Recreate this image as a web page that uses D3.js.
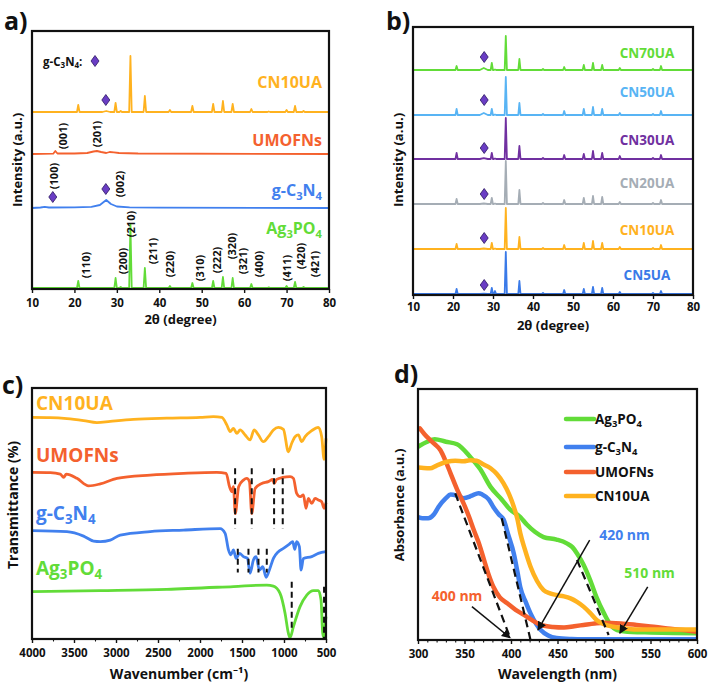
<!DOCTYPE html>
<html><head><meta charset="utf-8">
<script src="https://cdn.jsdelivr.net/npm/d3@7"></script>
<style>
body{margin:0;background:#fff}
svg{display:block}
text{font-family:"Open Sans","Noto Sans",sans-serif;font-weight:700}
</style>
</head><body>
<svg id="chart" width="709" height="685"></svg>
<script>
// ---------------- DATA ----------------
// Panel a (XRD): Ag3PO4 reflections and intensities (a.u.)
const xrdAnglesA = [20.9, 29.7, 30.9, 33.2, 36.6, 42.5, 47.8, 52.7, 55.0, 57.3, 61.7, 65.8, 70.0, 72.0, 74.0];
const ag3po4IntA = [7, 10, 1, 64, 20, 2, 5, 7, 11, 10, 4, 0.7, 2, 6, 1];
const cn10uaIntA = [7, 9, 1, 56, 16, 2, 6, 8, 11, 8, 3, 0.5, 2, 6, 1];
const gc3n4PatternA = [[10,0],[12,0.5],[13,1.2],[14,0.5],[20,0.6],[24,1.2],[26,3],[27.5,8],[28.6,4],[30,1.5],[33,0.6],[40,0.3],[80,0]];
const umofnsPatternA = [[10,0],[15,0.3],[15.5,3],[16,0.5],[20,0.5],[23,1],[24.5,2.5],[25.3,3],[26.3,2],[27.5,1],[28.3,2],[29.3,1.6],[30.5,1],[35,0.5],[80,0]];
const seriesA = ["CN10UA", "UMOFNs", "g-C3N4", "Ag3PO4"];
const baselineA = [177, 135, 81, 1];
const hklLabels = ["(110)","(200)","(210)","(211)","(220)","(310)","(222)","(320)","(321)","(400)","(411)","(420)","(421)"];
const hklAngle  = [22.5, 31.4, 33.3, 38.5, 42.3, 49.4, 53.6, 57.1, 59.7, 63.3, 69.9, 73.2, 76.5];
const hklLevel  = [24, 28, 65, 38, 25, 21, 29, 43, 28, 25, 21, 33, 25];
const otherHkl      = ["(001)","(201)","(100)","(002)"];
const otherHklAngle = [17.3, 25.3, 15.0, 30.7];
const otherHklLevel = [153, 155, 113, 105];
const diamondsA = [[27.4, 189], [14.9, 92], [27.4, 100]];

// Panel b (XRD of composites)
const seriesB = ["CN70UA","CN50UA","CN30UA","CN20UA","CN10UA","CN5UA"];
const xrdAnglesB = [20.9, 29.7, 30.5, 33.2, 36.6, 42.5, 47.8, 52.7, 55.0, 57.3, 61.7, 70.0, 72.0];
const intB = [
  [4, 7, 0.5, 34, 11, 1, 3, 5, 7, 5, 2, 1, 4],
  [6, 6, 0.5, 38, 12, 1, 4, 6, 8, 6, 2, 1, 4],
  [6, 6, 0.5, 41, 13, 1, 4, 5, 8, 6, 3, 1, 4],
  [5, 6, 0.5, 43, 14, 1, 4, 6, 8, 7, 2, 1, 4],
  [5, 6, 0.5, 41, 12, 1, 4, 6, 8, 6, 2, 1, 4],
  [5, 6, 3, 42, 13, 1, 4, 5, 7, 6, 2, 1, 3]
];
const humpB = [2, 2, 0.8, 0.5, 0.5, 0.3];
const baselineB = [225, 180, 136, 91, 46, 1];
const diamondLevelB = [238, 195, 147, 101, 57, 10];

// Panel c (FTIR): [wavenumber, transmittance]
const ftirCN10UA = [[4000,88.3],[3782,88.2],[3584,87.8],[3386,87.0],[3227,86.2],[3068,86.7],[2791,87.5],[2395,88.0],[1998,88.3],[1840,88.6],[1740,88.3],[1681,85.3],[1641,82.6],[1602,83.9],[1562,81.9],[1522,83.3],[1463,81.3],[1404,79.3],[1356,83.3],[1305,81.3],[1245,78.6],[1186,80.6],[1126,83.3],[1067,84.3],[1007,83.5],[948,74.6],[908,78.0],[868,80.6],[829,81.3],[789,78.6],[749,80.6],[670,83.0],[591,84.3],[551,80.6],[523,71.6],[500,79.9]];
const ftirUMOFNs = [[4000,66.4],[3782,66.3],[3663,65.7],[3623,64.4],[3592,65.7],[3465,64.0],[3326,61.0],[3187,61.8],[2989,64.0],[2593,65.3],[2196,66.0],[1800,66.4],[1689,66.0],[1649,60.7],[1622,58.7],[1602,60.7],[1580,50.0],[1540,60.7],[1483,63.3],[1443,64.0],[1411,62.7],[1384,50.0],[1344,60.0],[1265,62.0],[1186,62.7],[1134,63.6],[1118,62.0],[1087,63.6],[1015,64.4],[928,64.7],[888,64.0],[849,58.0],[809,56.7],[769,57.4],[738,52.1],[710,56.0],[670,54.0],[630,56.0],[591,55.4],[551,54.7],[523,52.1],[500,54.3]];
const ftirGC3N4 = [[4000,43.2],[3584,42.8],[3386,41.0],[3267,39.0],[3187,38.8],[3068,39.4],[2950,41.4],[2593,42.8],[2196,43.4],[1760,44.0],[1701,42.1],[1661,35.5],[1633,33.5],[1602,35.5],[1570,32.1],[1530,34.1],[1483,32.8],[1435,32.1],[1404,26.2],[1364,31.5],[1332,32.8],[1293,27.5],[1253,28.8],[1213,24.6],[1174,27.5],[1126,32.1],[1067,34.8],[1007,36.1],[936,37.8],[896,38.8],[872,35.7],[849,38.8],[817,36.8],[797,27.5],[769,32.1],[670,32.8],[591,34.1],[500,34.8]];
const ftirAg3PO4 = [[4000,18.9],[3187,19.3],[2395,19.8],[1602,20.9],[1205,21.5],[1126,21.1],[1047,18.2],[987,10.2],[948,2.3],[928,0.5],[888,4.9],[809,12.9],[729,17.5],[650,19.3],[591,19.3],[559,15.5],[539,2.3],[523,0.5],[512,4.9],[500,8.9]];
const ftirDashUMOFNs = [1582, 1384, 1118, 1015];
const ftirDashGC3N4 = [1550, 1423, 1304, 1205];
const ftirDashAg3PO4 = [[908, 22.8, 3.6], [523, 20.8, 0]];

// Panel d (UV-vis): [wavelength nm, absorbance a.u.]
const uvAg3PO4 = [[300,0.77],[310,0.79],[318,0.80],[330,0.79],[342,0.78],[356,0.73],[367,0.68],[378,0.61],[390,0.56],[399,0.52],[410,0.49],[417,0.46],[426,0.43],[435,0.41],[449,0.40],[460,0.385],[466,0.37],[471,0.345],[478,0.30],[485,0.24],[492,0.17],[500,0.106],[507,0.06],[514,0.04],[530,0.032],[550,0.03],[575,0.028],[600,0.027]];
const uvGC3N4 = [[300,0.49],[305,0.485],[311,0.485],[317,0.50],[322,0.53],[330,0.565],[335,0.58],[342,0.575],[349,0.565],[358,0.575],[365,0.585],[369,0.58],[376,0.56],[381,0.53],[387,0.50],[392,0.48],[397,0.42],[403,0.345],[407,0.27],[410,0.21],[416,0.15],[421,0.106],[427,0.065],[432,0.04],[440,0.018],[449,0.008],[465,0.004],[478,0.003],[600,0.003]];
const uvUMOFNs = [[302,0.843],[307,0.82],[313,0.797],[318,0.78],[324,0.757],[330,0.71],[335,0.664],[342,0.60],[349,0.544],[355,0.49],[360,0.438],[366,0.38],[371,0.319],[376,0.26],[381,0.212],[388,0.17],[396,0.146],[405,0.12],[414,0.1],[423,0.078],[432,0.06],[445,0.052],[457,0.05],[468,0.055],[478,0.06],[490,0.066],[500,0.069],[518,0.066],[535,0.06],[550,0.054],[568,0.046],[585,0.04],[600,0.033]];
const uvCN10UA = [[300,0.687],[306,0.685],[313,0.684],[320,0.695],[331,0.71],[340,0.714],[349,0.712],[356,0.716],[363,0.714],[370,0.70],[378,0.684],[385,0.66],[392,0.624],[398,0.58],[403,0.531],[407,0.48],[410,0.425],[415,0.36],[421,0.292],[428,0.235],[435,0.199],[442,0.186],[449,0.179],[457,0.174],[464,0.166],[471,0.152],[478,0.133],[485,0.108],[492,0.08],[500,0.063],[510,0.053],[520,0.047],[535,0.042],[560,0.042],[600,0.042]];
const uvTangents = [[[340,0.584],[400,0.0]], [[390,0.485],[421,0.0]], [[471,0.319],[505,0.02]]];
const uvArrows = [[[358,0.133],[399,0.009]], [[484.6,0.398],[429,0.04]], [[547,0.212],[517,0.027]]];
const uvEdgeLabels = ["400 nm", "420 nm", "510 nm"];
const uvEdgeLabelPos = [[342,0.179], [522,0.42], [549,0.267]];

// ---------------- STYLE ----------------
const C = {green:"#62dc38", blue:"#4180ee", red:"#f4612e", orange:"#ffb21f",
           purple:"#7030a0", gray:"#a5adb5", lblue:"#58b4f4", blue5:"#3a7ae8", dia:"#6a3dc4"};
const colA = {"CN10UA":C.orange, "UMOFNs":C.red, "g-C3N4":C.blue, "Ag3PO4":C.green};
const colB = [C.green, C.lblue, C.purple, C.gray, C.orange, C.blue5];

const svg = d3.select("#chart");

function richText(g, x, y, parts, opts) {
  const t = g.append("text").attr("x", x).attr("y", y)
    .attr("font-size", opts.size).attr("fill", opts.fill || "#111")
    .attr("text-anchor", opts.anchor || "start")
    .attr("dominant-baseline", "central");
  let sub = false;
  parts.forEach(p => {
    const isSub = Array.isArray(p);
    const s = isSub ? p[0] : p;
    const ts = t.append("tspan").text(s);
    if (isSub && !sub) { ts.attr("dy", opts.size * 0.3).attr("font-size", opts.size * 0.7); sub = true; }
    else if (isSub) { ts.attr("font-size", opts.size * 0.7); }
    else if (!isSub && sub) { ts.attr("dy", -opts.size * 0.3); sub = false; }
  });
  return t;
}
const partsOf = {
  "CN10UA": ["CN10UA"], "UMOFNs": ["UMOFNs"],
  "g-C3N4": ["g-C", ["3"], "N", ["4"]], "Ag3PO4": ["Ag", ["3"], "PO", ["4"]]
};

function frame(g, x0, x1, y0, y1) {
  g.append("rect").attr("x", x0).attr("y", y0).attr("width", x1 - x0).attr("height", y1 - y0)
    .attr("fill", "none").attr("stroke", "#111").attr("stroke-width", 2.2);
}
function xAxis(g, x, y0, major, minor, pad) {
  const ax = g.append("g").attr("transform", `translate(0,${y0})`)
    .call(d3.axisBottom(x).tickValues(major).tickSize(4).tickPadding(pad || 6).tickFormat(d3.format("d")));
  ax.select(".domain").remove();
  ax.selectAll("line").attr("stroke", "#111").attr("stroke-width", 1.4);
  ax.selectAll("text").attr("font-size", 11.5).attr("fill", "#111").attr("font-family", '"Open Sans",sans-serif').attr("font-weight", 700);
  if (minor) {
    const mi = g.append("g").attr("transform", `translate(0,${y0})`)
      .call(d3.axisBottom(x).tickValues(minor).tickSize(2.5).tickFormat(""));
    mi.select(".domain").remove();
    mi.selectAll("line").attr("stroke", "#111").attr("stroke-width", 1.1);
  }
}
function title(g, x, y, txt, rot, size) {
  const t = g.append("text").attr("x", x).attr("y", y).attr("text-anchor", "middle")
    .attr("dominant-baseline", "central").attr("font-size", size || 13).attr("fill", "#111").text(txt);
  if (rot) t.attr("transform", `rotate(-90,${x},${y})`);
  return t;
}
function diamond(g, cx, cy) {
  g.append("path").attr("d", `M${cx},${cy-5.5}L${cx+4},${cy}L${cx},${cy+5.5}L${cx-4},${cy}Z`)
    .attr("fill", C.dia).attr("stroke", "#2b1660").attr("stroke-width", 0.8);
}
function peakPoints(angles, ints, base, hw, hump) {
  const pts = [];
  const all = angles.map((a, i) => [a, ints[i], hw]);
  if (hump) all.push(hump);
  all.sort((p, q) => p[0] - q[0]);
  pts.push([10, base]);
  all.forEach(([a, h, w]) => { pts.push([a - w, base]); pts.push([a, base + h]); pts.push([a + w, base]); });
  pts.push([80, base]);
  return pts;
}
function letter(g, x, y, t) {
  g.append("text").attr("x", x).attr("y", y).attr("font-size", 25).attr("fill", "#111").text(t);
}

// ---------------- PANEL A ----------------
{
  const g = svg.append("g");
  const L = 32, R = 329, T = 31, B = 289;
  const x = d3.scaleLinear().domain([10, 80]).range([L, R]);
  const y = d3.scaleLinear().domain([0, 258]).range([B, T]);
  const line = d3.line().x(d => x(d[0])).y(d => y(d[1]));
  const dataA = {
    "CN10UA": peakPoints(xrdAnglesA, cn10uaIntA, baselineA[0], 0.3, [27.5, 1, 0.9]),
    "UMOFNs": umofnsPatternA.map(d => [d[0], d[1] + baselineA[1]]),
    "g-C3N4": gc3n4PatternA.map(d => [d[0], d[1] + baselineA[2]]),
    "Ag3PO4": peakPoints(xrdAnglesA, ag3po4IntA, baselineA[3], 0.3)
  };
  seriesA.forEach(s => {
    g.append("path").attr("d", line(dataA[s])).attr("fill", "none")
      .attr("stroke", colA[s]).attr("stroke-width", 1.8).attr("stroke-linejoin", "round");
  });
  const labY = {"CN10UA": 82, "UMOFNs": 140, "g-C3N4": 190, "Ag3PO4": 228};
  seriesA.forEach(s => richText(g, 322, labY[s], partsOf[s], {size: 16, fill: colA[s], anchor: "end"}));
  const rotLabel = (txt, a, lv) => {
    const px = x(a), py = y(lv);
    g.append("text").attr("x", px).attr("y", py).attr("text-anchor", "middle").attr("dominant-baseline", "central")
      .attr("font-size", 11).attr("fill", "#111").attr("transform", `rotate(-90,${px},${py})`).text(txt);
  };
  hklLabels.forEach((h, i) => rotLabel(h, hklAngle[i], hklLevel[i]));
  otherHkl.forEach((h, i) => rotLabel(h, otherHklAngle[i], otherHklLevel[i]));
  diamondsA.forEach(d => diamond(g, x(d[0]), y(d[1])));
  richText(g, 43, 61, ["g-C", ["3"], "N", ["4"], ":"], {size: 11.5, fill: "#111"});
  diamond(g, 95, 61);
  frame(g, L, R, T, B);
  xAxis(g, x, B, d3.range(10, 81, 10));
  title(g, (L + R) / 2, 319, "2θ (degree)");
  title(g, 17, 160, "Intensity (a.u.)", true);
  letter(g, 4, 30, "a)");
}

// ---------------- PANEL B ----------------
{
  const g = svg.append("g");
  const L = 413, R = 693, T = 27, B = 295;
  const x = d3.scaleLinear().domain([10, 80]).range([L, R]);
  const y = d3.scaleLinear().domain([0, 268]).range([B, T]);
  const line = d3.line().x(d => x(d[0])).y(d => y(d[1]));
  const labYB = [53, 92, 140, 183, 230, 275];
  seriesB.forEach((s, i) => {
    const pts = peakPoints(xrdAnglesB, intB[i], baselineB[i], 0.28, [27.7, humpB[i], 1.0]);
    g.append("path").attr("d", line(pts)).attr("fill", "none")
      .attr("stroke", colB[i]).attr("stroke-width", 1.8).attr("stroke-linejoin", "round");
    g.append("text").attr("x", 647).attr("y", labYB[i]).attr("text-anchor", "middle")
      .attr("dominant-baseline", "central").attr("font-size", 13.5).attr("fill", colB[i]).text(s);
    diamond(g, x(27.8), y(diamondLevelB[i]));
  });
  frame(g, L, R, T, B);
  xAxis(g, x, B, d3.range(10, 81, 10), null, 4);
  title(g, (L + R) / 2, 325, "2θ (degree)");
  title(g, 398, 160, "Intensity (a.u.)", true);
  letter(g, 386, 30, "b)");
}

// ---------------- PANEL C ----------------
{
  const g = svg.append("g");
  const L = 32, R = 326, T = 388, B = 639;
  const x = d3.scaleLinear().domain([4000, 500]).range([L, R]);
  const y = d3.scaleLinear().domain([0, 100]).range([B, T]);
  const line = d3.line().x(d => x(d[0])).y(d => y(d[1])).curve(d3.curveMonotoneX);
  const cs = [["CN10UA", ftirCN10UA], ["UMOFNs", ftirUMOFNs], ["g-C3N4", ftirGC3N4], ["Ag3PO4", ftirAg3PO4]];
  cs.forEach(([s, d]) => {
    g.append("path").attr("d", line(d)).attr("fill", "none").attr("stroke", colA[s])
      .attr("stroke-width", 2.8).attr("stroke-linejoin", "round");
  });
  const dash = (wn, a, b) => g.append("line").attr("x1", x(wn)).attr("x2", x(wn)).attr("y1", y(a)).attr("y2", y(b))
    .attr("stroke", "#111").attr("stroke-width", 2).attr("stroke-dasharray", "6,4");
  ftirDashUMOFNs.forEach(w => dash(w, 68, 44));
  ftirDashGC3N4.forEach(w => dash(w, 36, 26.5));
  ftirDashAg3PO4.forEach(d => dash(d[0], d[1], d[2]));
  const labY = {"CN10UA": 403, "UMOFNs": 455, "g-C3N4": 513, "Ag3PO4": 568};
  cs.forEach(([s]) => richText(g, 36, labY[s], partsOf[s], {size: 19, fill: colA[s]}));
  frame(g, L, R, T, B);
  xAxis(g, x, B, d3.range(4000, 499, -500), d3.range(3750, 500, -500));
  title(g, (L + R) / 2, 673, "Wavenumber (cm⁻¹)", false, 14);
  title(g, 12, 505, "Transmittance (%)", true, 14);
  letter(g, 2, 394, "c)");
}

// ---------------- PANEL D ----------------
{
  const g = svg.append("g");
  const L = 418, R = 697, T = 389, B = 640;
  const x = d3.scaleLinear().domain([300, 600]).range([L, R]);
  const y = d3.scaleLinear().domain([0, 1]).range([B, T]);
  const line = d3.line().x(d => x(d[0])).y(d => y(d[1])).curve(d3.curveMonotoneX);
  const cs = [["Ag3PO4", uvAg3PO4], ["g-C3N4", uvGC3N4], ["UMOFNs", uvUMOFNs], ["CN10UA", uvCN10UA]];
  g.append("clipPath").attr("id", "clipd").append("rect").attr("x", L).attr("y", T).attr("width", R - L).attr("height", B - T);
  const cg = g.append("g").attr("clip-path", "url(#clipd)");
  cs.forEach(([s, d]) => {
    cg.append("path").attr("d", line(d)).attr("fill", "none").attr("stroke", colA[s])
      .attr("stroke-width", 4.5).attr("stroke-linejoin", "round").attr("stroke-linecap", "round");
  });
  uvTangents.forEach(t => {
    g.append("line").attr("x1", x(t[0][0])).attr("y1", y(t[0][1])).attr("x2", x(t[1][0])).attr("y2", y(t[1][1]))
      .attr("stroke", "#111").attr("stroke-width", 2.2).attr("stroke-dasharray", "8,5");
  });
  g.append("defs").append("marker").attr("id", "arr").attr("viewBox", "0 0 10 10").attr("refX", 9).attr("refY", 5)
    .attr("markerWidth", 6).attr("markerHeight", 6).attr("orient", "auto")
    .append("path").attr("d", "M0,0L10,5L0,10Z").attr("fill", "#111");
  uvArrows.forEach(a => {
    g.append("line").attr("x1", x(a[0][0])).attr("y1", y(a[0][1])).attr("x2", x(a[1][0])).attr("y2", y(a[1][1]))
      .attr("stroke", "#111").attr("stroke-width", 1.5).attr("marker-end", "url(#arr)");
  });
  const edgeCol = [C.red, C.blue, C.green];
  uvEdgeLabels.forEach((t, i) => {
    g.append("text").attr("x", x(uvEdgeLabelPos[i][0])).attr("y", y(uvEdgeLabelPos[i][1]))
      .attr("text-anchor", "middle").attr("dominant-baseline", "central").attr("font-size", 14)
      .attr("fill", edgeCol[i]).text(t);
  });
  const legY = [419, 447, 472, 496];
  cs.forEach(([s], i) => {
    g.append("line").attr("x1", 566).attr("x2", 594).attr("y1", legY[i]).attr("y2", legY[i])
      .attr("stroke", colA[s]).attr("stroke-width", 4.5).attr("stroke-linecap", "round");
    richText(g, 595, legY[i], partsOf[s], {size: 13.5, fill: "#111"});
  });
  frame(g, L, R, T, B);
  xAxis(g, x, B, d3.range(300, 601, 50), d3.range(310, 600, 10).filter(v => v % 50 !== 0));
  title(g, (L + R) / 2, 673, "Wavelength (nm)", false, 14);
  title(g, 399, 505, "Absorbance (a.u.)", true, 13);
  letter(g, 394, 383, "d)");
}
</script>
</body></html>
